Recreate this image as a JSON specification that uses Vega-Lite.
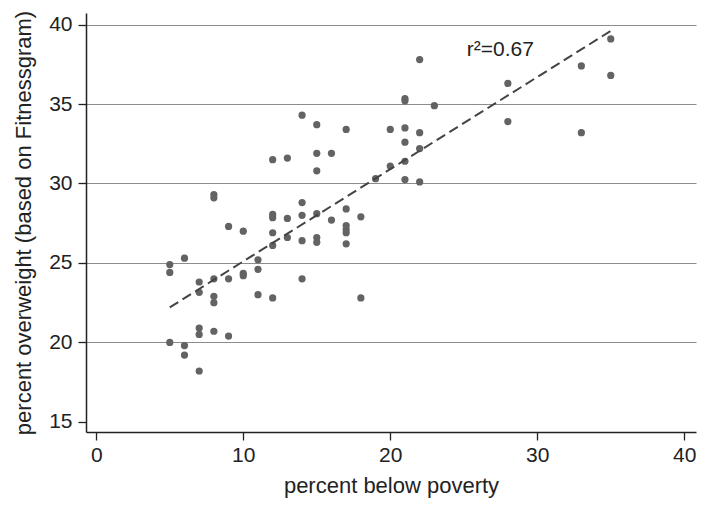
{
  "$schema": "https://vega.github.io/schema/vega-lite/v6.json",
  "width": 610,
  "height": 419,
  "autosize": {"type": "none"},
  "padding": {"left": 86, "top": 13, "right": 8, "bottom": 80},
  "background": "white",
  "config": {
    "view": {"stroke": null},
    "font": "Liberation Sans",
    "axis": {
      "domainColor": "#222222",
      "domainWidth": 1.5,
      "tickColor": "#222222",
      "tickWidth": 1.3,
      "tickSize": 8,
      "labelColor": "#222222",
      "titleColor": "#222222",
      "labelFont": "Liberation Sans",
      "titleFont": "Liberation Sans",
      "labelFontSize": 21,
      "titleFontSize": 22,
      "titleFontWeight": "normal"
    }
  },
  "datasets": {
    "schools": [
      {"poverty": 5, "overweight": 24.9}, {"poverty": 5, "overweight": 24.4}, {"poverty": 5, "overweight": 20.0},
      {"poverty": 6, "overweight": 25.3}, {"poverty": 6, "overweight": 19.8}, {"poverty": 6, "overweight": 19.2},
      {"poverty": 7, "overweight": 23.8}, {"poverty": 7, "overweight": 23.15}, {"poverty": 7, "overweight": 20.9}, {"poverty": 7, "overweight": 20.5}, {"poverty": 7, "overweight": 18.2},
      {"poverty": 8, "overweight": 29.3}, {"poverty": 8, "overweight": 29.1}, {"poverty": 8, "overweight": 24.0}, {"poverty": 8, "overweight": 22.9}, {"poverty": 8, "overweight": 22.5}, {"poverty": 8, "overweight": 20.7},
      {"poverty": 9, "overweight": 27.3}, {"poverty": 9, "overweight": 24.0}, {"poverty": 9, "overweight": 20.4},
      {"poverty": 10, "overweight": 27.0}, {"poverty": 10, "overweight": 24.35}, {"poverty": 10, "overweight": 24.2},
      {"poverty": 11, "overweight": 25.2}, {"poverty": 11, "overweight": 24.6}, {"poverty": 11, "overweight": 23.0},
      {"poverty": 12, "overweight": 31.5}, {"poverty": 12, "overweight": 28.05}, {"poverty": 12, "overweight": 27.85}, {"poverty": 12, "overweight": 26.9}, {"poverty": 12, "overweight": 26.1}, {"poverty": 12, "overweight": 22.8},
      {"poverty": 13, "overweight": 31.6}, {"poverty": 13, "overweight": 27.8}, {"poverty": 13, "overweight": 26.6},
      {"poverty": 14, "overweight": 34.3}, {"poverty": 14, "overweight": 28.8}, {"poverty": 14, "overweight": 28.0}, {"poverty": 14, "overweight": 26.4}, {"poverty": 14, "overweight": 24.0},
      {"poverty": 15, "overweight": 33.7}, {"poverty": 15, "overweight": 31.9}, {"poverty": 15, "overweight": 30.8}, {"poverty": 15, "overweight": 28.1}, {"poverty": 15, "overweight": 26.6}, {"poverty": 15, "overweight": 26.3},
      {"poverty": 16, "overweight": 31.9}, {"poverty": 16, "overweight": 27.7},
      {"poverty": 17, "overweight": 33.4}, {"poverty": 17, "overweight": 28.4}, {"poverty": 17, "overweight": 27.35}, {"poverty": 17, "overweight": 27.1}, {"poverty": 17, "overweight": 26.9}, {"poverty": 17, "overweight": 26.2},
      {"poverty": 18, "overweight": 27.9}, {"poverty": 18, "overweight": 22.8},
      {"poverty": 19, "overweight": 30.3},
      {"poverty": 20, "overweight": 33.4}, {"poverty": 20, "overweight": 31.1},
      {"poverty": 21, "overweight": 35.35}, {"poverty": 21, "overweight": 35.2}, {"poverty": 21, "overweight": 33.5}, {"poverty": 21, "overweight": 32.6}, {"poverty": 21, "overweight": 31.4}, {"poverty": 21, "overweight": 30.25},
      {"poverty": 22, "overweight": 37.8}, {"poverty": 22, "overweight": 33.2}, {"poverty": 22, "overweight": 32.2}, {"poverty": 22, "overweight": 30.1},
      {"poverty": 23, "overweight": 34.9},
      {"poverty": 28, "overweight": 36.3}, {"poverty": 28, "overweight": 33.9},
      {"poverty": 33, "overweight": 37.4}, {"poverty": 33, "overweight": 33.2},
      {"poverty": 35, "overweight": 39.1}, {"poverty": 35, "overweight": 36.8}
    ],
    "fit": [
      {"poverty": 5, "overweight": 22.2},
      {"poverty": 35, "overweight": 39.6}
    ],
    "note": [
      {"poverty": 25.2, "overweight": 38.0, "label": "r²=0.67"}
    ]
  },
  "layer": [
    {
      "data": {"name": "schools"},
      "mark": {"type": "circle", "size": 52, "color": "#636363", "opacity": 1},
      "encoding": {
        "x": {
          "field": "poverty", "type": "quantitative",
          "scale": {"domain": [-0.7, 40.8], "nice": false, "zero": false},
          "axis": {
            "title": "percent below poverty",
            "values": [0, 10, 20, 30, 40],
            "grid": false,
            "labelPadding": 4,
            "titlePadding": 10
          }
        },
        "y": {
          "field": "overweight", "type": "quantitative",
          "scale": {"domain": [14.36, 40.73], "nice": false, "zero": false},
          "axis": {
            "title": "percent overweight (based on Fitnessgram)",
            "values": [15, 20, 25, 30, 35, 40],
            "grid": true,
            "gridColor": "#8c8c8c",
            "gridWidth": 1.2,
            "gridOpacity": {"condition": {"test": "datum.value <= 15", "value": 0}, "value": 1},
            "labelPadding": 6,
            "titlePadding": 13
          }
        }
      }
    },
    {
      "data": {"name": "fit"},
      "mark": {"type": "line", "color": "#444444", "strokeWidth": 2, "strokeDash": [10, 5]},
      "encoding": {
        "x": {"field": "poverty", "type": "quantitative"},
        "y": {"field": "overweight", "type": "quantitative"}
      }
    },
    {
      "data": {"name": "note"},
      "mark": {"type": "text", "align": "left", "baseline": "alphabetic", "fontSize": 21, "font": "Liberation Sans", "color": "#222222"},
      "encoding": {
        "x": {"field": "poverty", "type": "quantitative"},
        "y": {"field": "overweight", "type": "quantitative"},
        "text": {"field": "label"}
      }
    }
  ]
}
